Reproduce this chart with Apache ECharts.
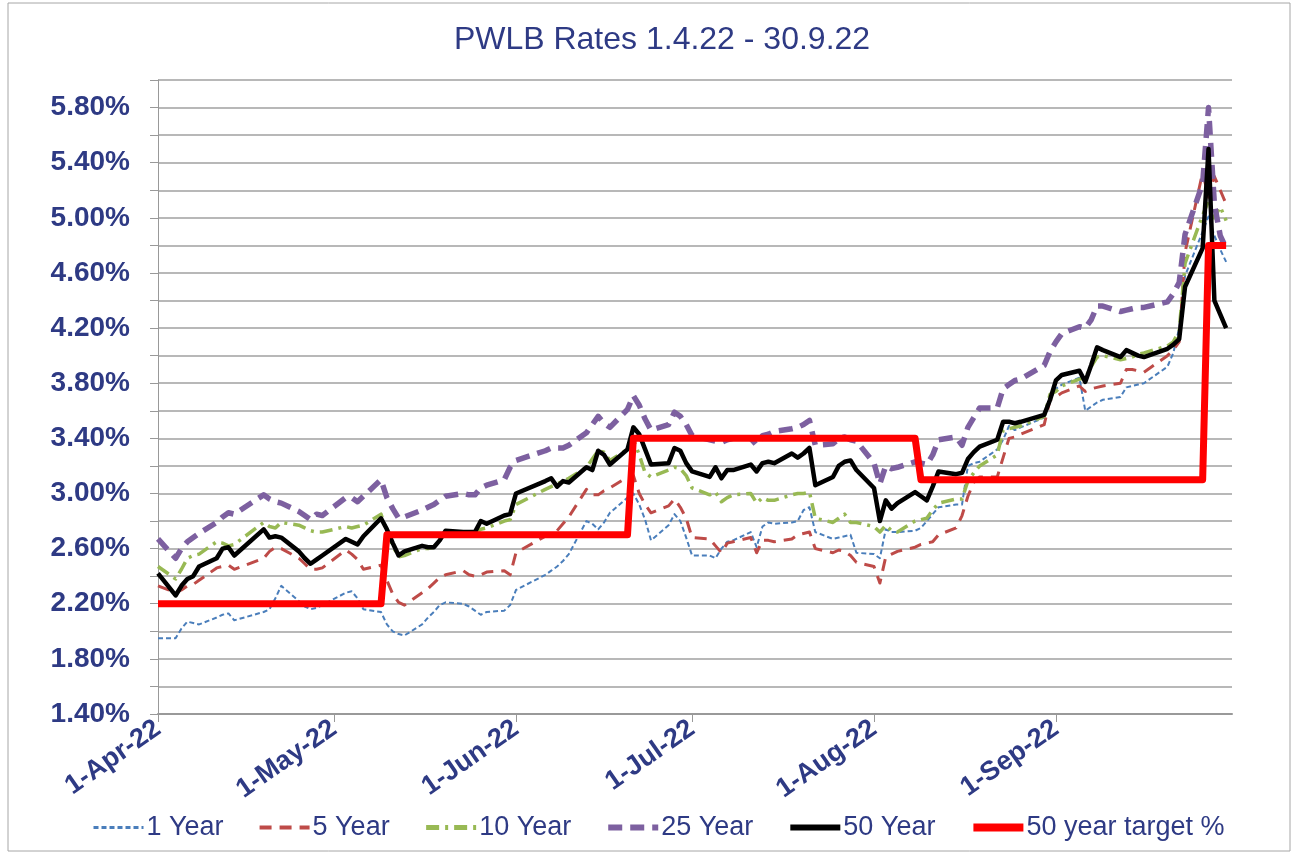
<!DOCTYPE html>
<html>
<head>
<meta charset="utf-8">
<script src="https://cdn.jsdelivr.net/npm/echarts@6/dist/echarts.min.js"></script>
<style>
  html, body { margin: 0; padding: 0; background: #fff; }
  #main { width: 1293px; height: 854px; }
</style>
</head>
<body>
<div id="main"></div>
<script>
// business days with a published rate
var dates = [
  "2022-04-01","2022-04-04","2022-04-05","2022-04-06","2022-04-07","2022-04-08","2022-04-11","2022-04-12","2022-04-13","2022-04-14",
  "2022-04-19","2022-04-20","2022-04-21","2022-04-22","2022-04-25","2022-04-26","2022-04-27","2022-04-28","2022-04-29",
  "2022-05-03","2022-05-04","2022-05-05","2022-05-06","2022-05-09","2022-05-10","2022-05-11","2022-05-12","2022-05-13",
  "2022-05-16","2022-05-17","2022-05-18","2022-05-19","2022-05-20","2022-05-23","2022-05-24","2022-05-25","2022-05-26","2022-05-27",
  "2022-05-30","2022-05-31",
  "2022-06-01","2022-06-06","2022-06-07","2022-06-08","2022-06-09","2022-06-10","2022-06-13","2022-06-14","2022-06-15","2022-06-16",
  "2022-06-17","2022-06-20","2022-06-21","2022-06-22","2022-06-23","2022-06-24","2022-06-27","2022-06-28","2022-06-29","2022-06-30",
  "2022-07-01","2022-07-04","2022-07-05","2022-07-06","2022-07-07","2022-07-08","2022-07-11","2022-07-12","2022-07-13","2022-07-14",
  "2022-07-15","2022-07-18","2022-07-19","2022-07-20","2022-07-21","2022-07-22","2022-07-25","2022-07-26","2022-07-27","2022-07-28",
  "2022-07-29",
  "2022-08-01","2022-08-02","2022-08-03","2022-08-04","2022-08-05","2022-08-08","2022-08-09","2022-08-10","2022-08-11","2022-08-12",
  "2022-08-15","2022-08-16","2022-08-17","2022-08-18","2022-08-19","2022-08-22","2022-08-23","2022-08-24","2022-08-25","2022-08-26",
  "2022-08-30","2022-08-31",
  "2022-09-01","2022-09-02","2022-09-05","2022-09-06","2022-09-07","2022-09-08","2022-09-09","2022-09-12","2022-09-13","2022-09-14",
  "2022-09-15","2022-09-16","2022-09-20","2022-09-21","2022-09-22","2022-09-23","2022-09-26","2022-09-27","2022-09-28","2022-09-29",
  "2022-09-30"
];

var year1 = [
  1.95,1.95,2.02,2.07,2.06,2.05,2.10,2.12,2.13,2.08,2.14,2.16,2.24,2.33,2.22,2.18,2.16,2.17,2.19,
  2.28,2.29,2.24,2.16,2.14,2.05,2.00,1.98,1.97,2.05,2.10,2.14,2.19,2.21,2.20,2.18,2.15,2.12,2.14,2.15,2.19,
  2.30,2.41,2.44,2.47,2.51,2.56,2.80,2.78,2.74,2.79,2.86,2.97,3.00,2.92,2.81,2.66,2.77,2.85,2.80,2.68,
  2.55,2.55,2.53,2.60,2.65,2.66,2.72,2.61,2.76,2.79,2.78,2.79,2.80,2.88,2.90,2.72,2.67,2.68,2.69,2.70,2.57,
  2.56,2.53,2.74,2.72,2.72,2.73,2.75,2.80,2.85,2.90,2.92,2.92,3.20,3.22,3.23,3.32,3.39,3.49,3.46,3.48,3.55,3.68,
  3.76,3.79,3.84,3.60,3.63,3.66,3.68,3.70,3.77,3.78,3.79,3.80,3.92,4.02,4.20,4.58,4.90,5.01,4.87,4.77,4.68
];

var year5 = [
  2.33,2.28,2.30,2.33,2.34,2.37,2.46,2.47,2.48,2.45,2.53,2.58,2.61,2.60,2.53,2.49,2.45,2.45,2.46,
  2.59,2.56,2.52,2.45,2.48,2.37,2.27,2.21,2.19,2.28,2.31,2.35,2.39,2.41,2.44,2.41,2.40,2.41,2.43,2.44,2.41,
  2.57,2.69,2.70,2.73,2.78,2.83,3.03,2.99,2.99,3.02,3.04,3.12,3.13,3.00,2.92,2.86,2.91,2.96,2.90,2.82,
  2.68,2.67,2.62,2.57,2.64,2.65,2.68,2.57,2.66,2.66,2.65,2.67,2.70,2.71,2.72,2.60,2.57,2.59,2.58,2.55,2.50,
  2.47,2.35,2.54,2.56,2.58,2.61,2.63,2.64,2.65,2.70,2.75,2.84,2.98,3.08,3.12,3.12,3.26,3.40,3.41,3.43,3.50,3.68,
  3.70,3.73,3.78,3.74,3.76,3.77,3.78,3.80,3.90,3.90,3.89,3.88,4.00,4.04,4.10,4.75,5.33,5.15,5.30,5.20,5.10
];

var year10 = [
  2.47,2.38,2.45,2.53,2.55,2.56,2.65,2.64,2.62,2.63,2.79,2.76,2.75,2.79,2.77,2.75,2.73,2.72,2.72,
  2.76,2.75,2.76,2.77,2.85,2.72,2.62,2.54,2.55,2.60,2.60,2.61,2.66,2.72,2.72,2.71,2.71,2.74,2.75,2.80,2.81,
  2.92,3.03,3.05,3.07,3.09,3.11,3.19,3.25,3.31,3.30,3.24,3.32,3.39,3.28,3.15,3.12,3.17,3.19,3.18,3.13,
  3.04,2.99,3.01,2.94,2.97,2.99,3.00,2.93,2.97,2.95,2.95,2.99,3.00,3.00,3.01,2.82,2.79,2.82,2.85,2.79,2.79,
  2.76,2.72,2.77,2.73,2.72,2.80,2.81,2.82,2.88,2.93,2.96,2.96,3.09,3.15,3.20,3.28,3.46,3.47,3.48,3.49,3.56,3.72,
  3.74,3.78,3.83,3.84,3.92,3.99,4.00,3.97,3.98,3.99,4.01,4.02,4.07,4.10,4.18,4.67,5.02,5.12,5.00,5.08,4.98
];

var year25 = [
  2.67,2.53,2.60,2.65,2.68,2.71,2.79,2.83,2.86,2.85,2.99,2.96,2.94,2.93,2.87,2.84,2.81,2.85,2.84,
  2.97,2.97,2.94,2.98,3.10,2.97,2.89,2.82,2.83,2.88,2.90,2.92,2.95,2.98,3.00,2.99,2.99,3.04,3.06,3.10,3.19,
  3.24,3.31,3.33,3.33,3.33,3.35,3.44,3.50,3.56,3.51,3.48,3.61,3.71,3.64,3.54,3.46,3.50,3.59,3.56,3.50,
  3.42,3.39,3.38,3.37,3.39,3.40,3.40,3.35,3.42,3.43,3.45,3.47,3.48,3.50,3.53,3.35,3.36,3.40,3.41,3.39,3.38,
  3.22,3.07,3.20,3.18,3.19,3.23,3.22,3.21,3.28,3.39,3.41,3.35,3.48,3.55,3.62,3.62,3.76,3.79,3.82,3.83,3.93,4.03,
  4.10,4.16,4.21,4.20,4.26,4.36,4.36,4.32,4.33,4.34,4.35,4.35,4.39,4.45,4.53,4.88,5.25,5.80,5.10,4.87,4.78
];

var year50 = [
  2.42,2.26,2.33,2.38,2.40,2.47,2.53,2.60,2.61,2.55,2.74,2.68,2.69,2.68,2.58,2.53,2.49,2.52,2.55,
  2.67,2.65,2.63,2.69,2.82,2.74,2.64,2.55,2.58,2.62,2.61,2.61,2.66,2.73,2.72,2.72,2.72,2.80,2.78,2.84,2.85,
  3.00,3.09,3.11,3.05,3.09,3.08,3.19,3.17,3.31,3.28,3.21,3.32,3.48,3.43,3.32,3.21,3.22,3.33,3.31,3.22,
  3.16,3.12,3.19,3.11,3.17,3.17,3.21,3.16,3.22,3.23,3.22,3.29,3.26,3.29,3.33,3.06,3.12,3.20,3.23,3.24,3.17,
  3.04,2.80,2.95,2.89,2.93,3.01,2.98,2.95,3.05,3.16,3.14,3.15,3.25,3.30,3.34,3.39,3.52,3.52,3.51,3.52,3.57,3.68,
  3.82,3.86,3.89,3.81,3.93,4.06,4.04,3.99,4.04,4.02,4.00,3.99,4.05,4.08,4.12,4.50,4.78,5.50,4.40,4.30,4.20
];

var target50 = [
  2.20,2.20,2.20,2.20,2.20,2.20,2.20,2.20,2.20,2.20,2.20,2.20,2.20,2.20,2.20,2.20,2.20,2.20,2.20,
  2.20,2.20,2.20,2.20,2.20,2.70,2.70,2.70,2.70,2.70,2.70,2.70,2.70,2.70,2.70,2.70,2.70,2.70,2.70,2.70,2.70,
  2.70,2.70,2.70,2.70,2.70,2.70,2.70,2.70,2.70,2.70,2.70,2.70,3.40,3.40,3.40,3.40,3.40,3.40,3.40,3.40,
  3.40,3.40,3.40,3.40,3.40,3.40,3.40,3.40,3.40,3.40,3.40,3.40,3.40,3.40,3.40,3.40,3.40,3.40,3.40,3.40,3.40,
  3.40,3.40,3.40,3.40,3.40,3.40,3.10,3.10,3.10,3.10,3.10,3.10,3.10,3.10,3.10,3.10,3.10,3.10,3.10,3.10,3.10,3.10,
  3.10,3.10,3.10,3.10,3.10,3.10,3.10,3.10,3.10,3.10,3.10,3.10,3.10,3.10,3.10,3.10,3.10,4.80,4.80,4.80,4.80
];

var seriesNames = ["1 Year", "5 Year", "10 Year", "25 Year", "50 Year", "50 year target %"];
var monthNames = ["Jan","Feb","Mar","Apr","May","Jun","Jul","Aug","Sep","Oct","Nov","Dec"];

var navy = "#2E3A84";
var gridGrey = "#B8B8B8";
var fontFam = "'Liberation Sans', Arial, sans-serif";

function pairs(values) {
  return dates.map(function (d, i) { return [d, values[i]]; });
}

function lineSeries(name, values, color, width, type, z) {
  return {
    name: name,
    type: "line",
    data: pairs(values),
    symbol: "none",
    z: z,
    lineStyle: { color: color, width: width, type: type, cap: "butt", join: "round" },
    itemStyle: { color: color }
  };
}

var myChart = echarts.init(document.getElementById("main"));

var option = {
  animation: false,
  backgroundColor: "#ffffff",
  graphic: [
    {
      type: "rect",
      shape: { x: 8, y: 3, width: 1282, height: 848 },
      style: { fill: null, stroke: "#A6A6A6", lineWidth: 1 },
      silent: true
    },
    {
      type: "text",
      x: 662,
      y: 40,
      style: {
        text: "PWLB Rates 1.4.22 - 30.9.22",
        fill: navy,
        font: "32px " + fontFam,
        textAlign: "center",
        textVerticalAlign: "middle"
      }
    }
  ],
  grid: {
    left: 158,
    right: 61,
    top: 80,
    bottom: 140,
    containLabel: false,
    outerBoundsMode: "none"
  },
  legend: {
    data: [
      { name: seriesNames[0], lineStyle: { width: 3 } },
      { name: seriesNames[1], lineStyle: { width: 4 } },
      { name: seriesNames[2], lineStyle: { width: 5 } },
      { name: seriesNames[3], lineStyle: { width: 6 } },
      { name: seriesNames[4], lineStyle: { width: 6 } },
      { name: seriesNames[5], lineStyle: { width: 8 } }
    ],
    left: 92,
    top: 814,
    itemWidth: 50,
    itemHeight: 16,
    itemGap: 34,
    padding: 0,
    itemStyle: { opacity: 0 },
    textStyle: {
      color: navy,
      fontSize: 27,
      fontFamily: fontFam,
      padding: [0, 0, 0, -2]
    }
  },
  xAxis: {
    type: "time",
    min: "2022-04-01",
    max: "2022-10-01",
    splitNumber: 6,
    minInterval: 28 * 86400000,
    maxInterval: 31 * 86400000,
    axisLine: { show: true, lineStyle: { color: "#999999", width: 2 } },
    axisTick: { show: true, length: 8, lineStyle: { color: "#999999", width: 1 } },
    splitLine: { show: false },
    axisLabel: {
      rotate: 35,
      margin: 12,
      color: navy,
      fontSize: 27,
      fontWeight: "bold",
      fontFamily: fontFam,
      showMaxLabel: false,
      formatter: function (value) {
        var d = new Date(value);
        if (d.getMonth() === 9) return "";
        return d.getDate() + "-" + monthNames[d.getMonth()] + "-" + String(d.getFullYear()).slice(2);
      }
    }
  },
  yAxis: {
    type: "value",
    min: 1.4,
    max: 6.0,
    interval: 0.2,
    axisLine: { show: true, lineStyle: { color: "#999999", width: 1 } },
    axisTick: { show: true, length: 8, lineStyle: { color: "#999999" } },
    splitLine: { show: true, lineStyle: { color: gridGrey, width: 2 } },
    axisLabel: {
      margin: 28,
      color: navy,
      fontSize: 28,
      fontWeight: "bold",
      fontFamily: fontFam,
      formatter: function (v) {
        var steps = Math.round((v - 1.4) * 100);
        if (steps % 40 !== 0 || v > 5.9) return "";
        return v.toFixed(2) + "%";
      }
    }
  },
  series: [
    lineSeries(seriesNames[0], year1, "#4A7EBB", 2, [5, 3], 2),
    lineSeries(seriesNames[1], year5, "#BE4B48", 3, [12, 8], 3),
    lineSeries(seriesNames[2], year10, "#98B954", 3.5, [13, 6, 3, 6], 4),
    lineSeries(seriesNames[3], year25, "#7D60A0", 5.5, [14, 8], 5),
    lineSeries(seriesNames[4], year50, "#000000", 4.5, "solid", 6),
    lineSeries(seriesNames[5], target50, "#FF0000", 7, "solid", 7)
  ]
};

myChart.setOption(option);
</script>
</body>
</html>
